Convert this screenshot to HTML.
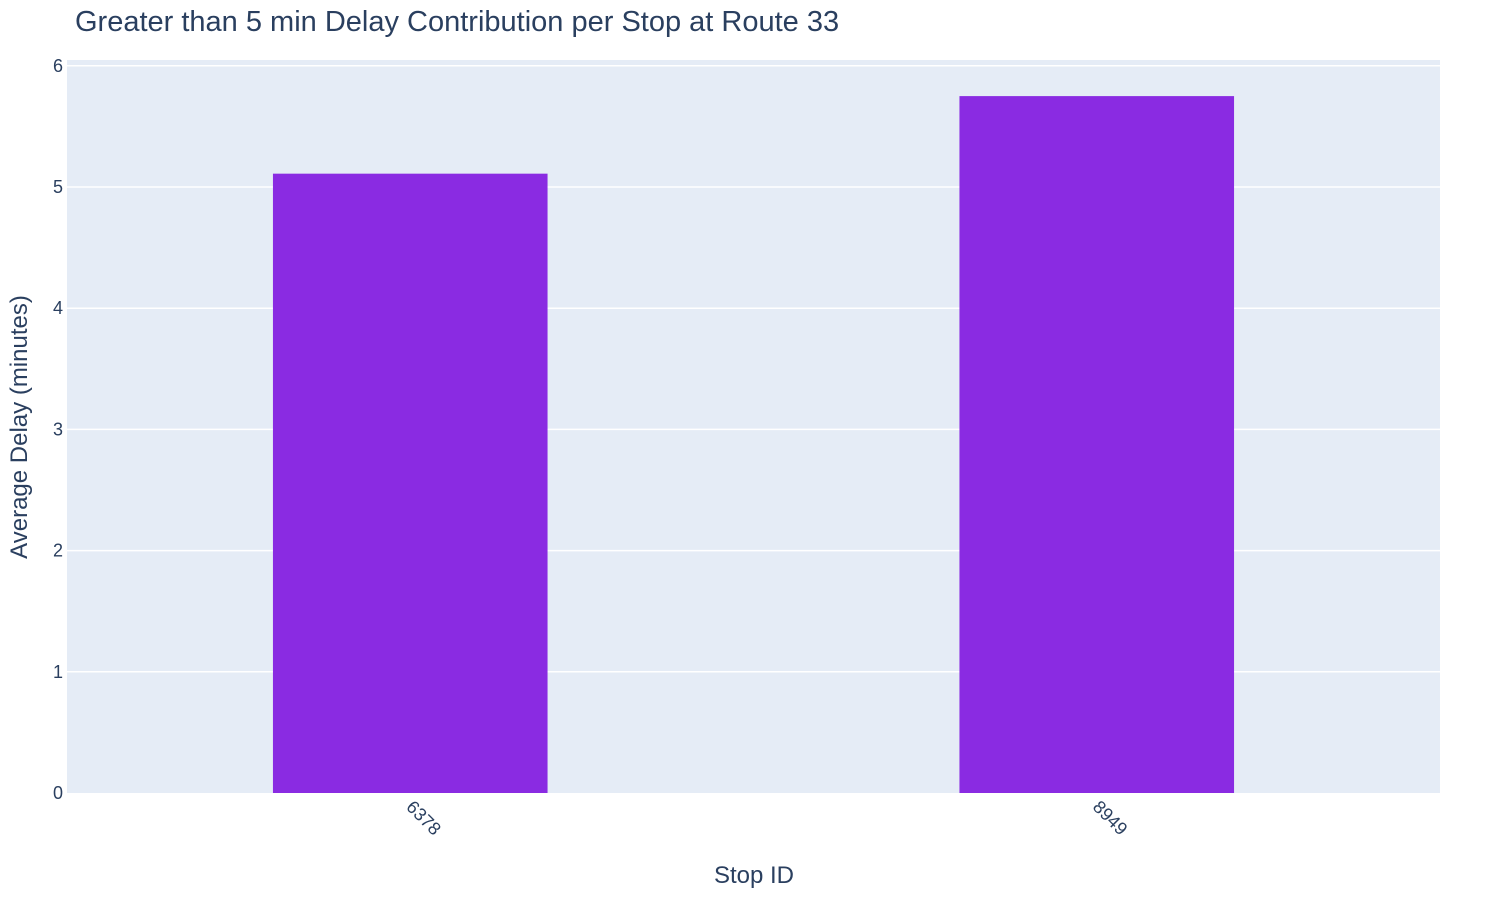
<!DOCTYPE html>
<html><head><meta charset="utf-8"><style>
body{margin:0;background:#fff;}
svg text{font-family:"Liberation Sans",Arial,sans-serif;}
</style></head><body>
<svg id="chart" width="1500" height="900">
<text x="75" y="31" font-size="29" fill="#2a3f5f">Greater than 5 min Delay Contribution per Stop at Route 33</text>
<rect x="67" y="60" width="1373" height="733" fill="#e5ecf6"/>
<g id="grid"></g><g id="bars"></g><g id="ticks"></g>
<text x="754" y="883" font-size="24" fill="#2a3f5f" text-anchor="middle">Stop ID</text>
<text transform="translate(27,427) rotate(-90)" font-size="24" fill="#2a3f5f" text-anchor="middle">Average Delay (minutes)</text>
</svg>
<script>
const categories = ["6378", "8949"];
const values = [5.11, 5.75];
const yTicks = [0, 1, 2, 3, 4, 5, 6];
const NS = "http://www.w3.org/2000/svg";
const left = 67, right = 1440, y0 = 793, unit = 121.2;
const band = (right - left) / categories.length;
const yScale = v => y0 - v * unit;
const xCenter = i => left + band * (i + 0.5);
function mk(tag, attrs, parent, txt) {
  const e = document.createElementNS(NS, tag);
  for (const k in attrs) e.setAttribute(k, attrs[k]);
  if (txt !== undefined) e.textContent = txt;
  document.getElementById(parent).appendChild(e);
  return e;
}
yTicks.forEach(t => {
  const y = yScale(t);
  if (t > 0) {
    const g = mk("line", {x1: left, x2: right, y1: y, y2: y, stroke: "#fff", "stroke-width": 1.5}, "grid");
    
    
  }
  const l = mk("text", {x: left - 4, y: y + 6, "font-size": 18, fill: "#2a3f5f", "text-anchor": "end"}, "ticks", String(t));
  
  
});
categories.forEach((c, i) => {
  const w = band * 0.4, cx = xCenter(i), top = yScale(values[i]);
  const b = mk("rect", {x: cx - w / 2, y: top, width: w, height: y0 - top, fill: "#8a2be2"}, "bars");
  
  
  const t = mk("text", {transform: `translate(${cx - 5},${808}) rotate(45)`, "font-size": 18, fill: "#2a3f5f"}, "ticks", c);
  
  
});
</script>
</body></html>
